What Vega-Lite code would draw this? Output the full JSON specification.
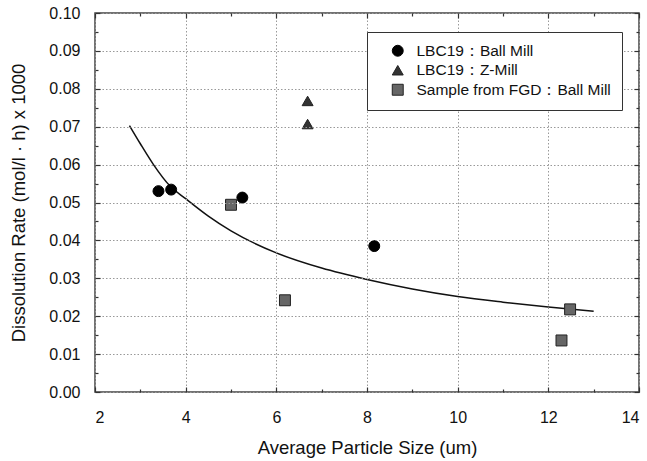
{
  "$schema": "https://vega.github.io/schema/vega-lite/v6.json",
  "width": 544,
  "height": 379,
  "autosize": {"type": "none"},
  "padding": {"left": 95, "top": 13, "right": 8, "bottom": 69},
  "config": {
    "view": {"stroke": "#444", "strokeWidth": 1.5},
    "font": "Liberation Sans",
    "axis": {
      "labelFont": "Liberation Sans",
      "titleFont": "Liberation Sans",
      "labelFontSize": 16,
      "titleFontSize": 18.5,
      "titleFontWeight": "normal",
      "labelColor": "#111",
      "titleColor": "#111",
      "domain": false,
      "ticks": true,
      "tickColor": "#333",
      "tickWidth": 1.2,
      "gridColor": "#999",
      "gridDash": [1.5, 2],
      "gridWidth": 1
    }
  },
  "datasets": {
    "pts": [
      {"size": 3.40, "rate": 0.0530, "series": "LBC19：Ball Mill"},
      {"size": 3.68, "rate": 0.0534, "series": "LBC19：Ball Mill"},
      {"size": 5.25, "rate": 0.0513, "series": "LBC19：Ball Mill"},
      {"size": 8.16, "rate": 0.0385, "series": "LBC19：Ball Mill"},
      {"size": 6.69, "rate": 0.0768, "series": "LBC19：Z-Mill"},
      {"size": 6.69, "rate": 0.0707, "series": "LBC19：Z-Mill"},
      {"size": 5.00, "rate": 0.0494, "series": "Sample from FGD：Ball Mill"},
      {"size": 6.19, "rate": 0.0242, "series": "Sample from FGD：Ball Mill"},
      {"size": 12.48, "rate": 0.0218, "series": "Sample from FGD：Ball Mill"},
      {"size": 12.29, "rate": 0.0136, "series": "Sample from FGD：Ball Mill"}
    ],
    "fit": [
      {"size": 2.76, "rate": 0.0703},
      {"size": 3.0, "rate": 0.0655},
      {"size": 3.29, "rate": 0.0600},
      {"size": 3.65, "rate": 0.0544},
      {"size": 4.0, "rate": 0.0510},
      {"size": 4.5, "rate": 0.0464},
      {"size": 5.0, "rate": 0.0425},
      {"size": 6.0, "rate": 0.0367},
      {"size": 7.0, "rate": 0.0327},
      {"size": 8.0, "rate": 0.0297},
      {"size": 9.0, "rate": 0.0272},
      {"size": 10.0, "rate": 0.0252},
      {"size": 11.0, "rate": 0.0237},
      {"size": 12.0, "rate": 0.0224},
      {"size": 13.0, "rate": 0.0213}
    ]
  },
  "layer": [
    {
      "data": {"name": "fit"},
      "mark": {"type": "line", "interpolate": "monotone", "color": "#111", "strokeWidth": 1.5},
      "encoding": {
        "x": {
          "field": "size", "type": "quantitative",
          "scale": {"domain": [2, 14], "nice": false, "zero": false},
          "axis": {
            "orient": "bottom",
            "grid": true,
            "title": "Average Particle Size (um)",
            "values": [2, 3, 4, 5, 6, 7, 8, 9, 10, 11, 12, 13, 14],
            "labelExpr": "datum.value % 2 == 0 ? datum.label : ''",
            "tickSize": {"condition": {"test": "datum.value % 2 == 0", "value": -5}, "value": -3},
            "gridOpacity": {"condition": {"test": "datum.value % 2 == 0", "value": 1}, "value": 0},
            "labelPadding": 22,
            "titlePadding": 13,
            "zindex": 1
          }
        },
        "y": {
          "field": "rate", "type": "quantitative",
          "scale": {"domain": [0, 0.1], "nice": false, "zero": true},
          "axis": {
            "orient": "left",
            "grid": true,
            "title": "Dissolution Rate (mol/l · h) x 1000",
            "values": [0, 0.005, 0.01, 0.015, 0.02, 0.025, 0.03, 0.035, 0.04, 0.045, 0.05, 0.055, 0.06, 0.065, 0.07, 0.075, 0.08, 0.085, 0.09, 0.095, 0.1],
            "labelExpr": "round(datum.value * 1000) % 10 == 0 ? format(datum.value, '.2f') : ''",
            "tickSize": {"condition": {"test": "round(datum.value * 1000) % 10 == 0", "value": -5}, "value": -3},
            "gridOpacity": {"condition": {"test": "round(datum.value * 1000) % 10 == 0", "value": 1}, "value": 0},
            "labelPadding": 20,
            "titlePadding": 20,
            "zindex": 1
          }
        }
      }
    },
    {
      "data": {"name": "pts"},
      "mark": {"type": "point", "filled": true, "opacity": 1, "strokeWidth": 1},
      "encoding": {
        "x": {
          "field": "size", "type": "quantitative",
          "axis": {
            "orient": "top", "title": null, "labels": false, "grid": false,
            "values": [2, 3, 4, 5, 6, 7, 8, 9, 10, 11, 12, 13, 14],
            "tickSize": {"condition": {"test": "datum.value % 2 == 0", "value": -5}, "value": -3},
            "zindex": 1
          }
        },
        "y": {
          "field": "rate", "type": "quantitative",
          "axis": {
            "orient": "right", "title": null, "labels": false, "grid": false,
            "values": [0, 0.005, 0.01, 0.015, 0.02, 0.025, 0.03, 0.035, 0.04, 0.045, 0.05, 0.055, 0.06, 0.065, 0.07, 0.075, 0.08, 0.085, 0.09, 0.095, 0.1],
            "tickSize": {"condition": {"test": "round(datum.value * 1000) % 10 == 0", "value": -5}, "value": -3},
            "zindex": 1
          }
        },
        "shape": {
          "field": "series", "type": "nominal",
          "scale": {"domain": ["LBC19：Ball Mill", "LBC19：Z-Mill", "Sample from FGD：Ball Mill"], "range": ["circle", "triangle-up", "square"]}
        },
        "size": {
          "field": "series", "type": "nominal",
          "scale": {"domain": ["LBC19：Ball Mill", "LBC19：Z-Mill", "Sample from FGD：Ball Mill"], "range": [120, 120, 100]}
        },
        "stroke": {
          "field": "series", "type": "nominal",
          "scale": {"domain": ["LBC19：Ball Mill", "LBC19：Z-Mill", "Sample from FGD：Ball Mill"], "range": ["#000000", "#222222", "#222222"]}
        },
        "color": {
          "field": "series", "type": "nominal",
          "scale": {"domain": ["LBC19：Ball Mill", "LBC19：Z-Mill", "Sample from FGD：Ball Mill"], "range": ["#000000", "#333333", "#666666"]},
          "legend": {
            "title": null,
            "orient": "none",
            "legendX": 272,
            "legendY": 19,
            "zindex": 3,
            "strokeColor": "#333",
            "fillColor": "white",
            "padding": 11,
            "symbolOffset": 12,
            "labelOffset": 11,
            "rowPadding": 2.5,
            "labelFontSize": 15.5,
            "labelLimit": 400,
            "labelFont": "Liberation Sans",
            "labelColor": "#111",
            "symbolStrokeWidth": 1
          }
        }
      }
    }
  ],
  "resolve": {"axis": {"x": "independent", "y": "independent"}}
}
